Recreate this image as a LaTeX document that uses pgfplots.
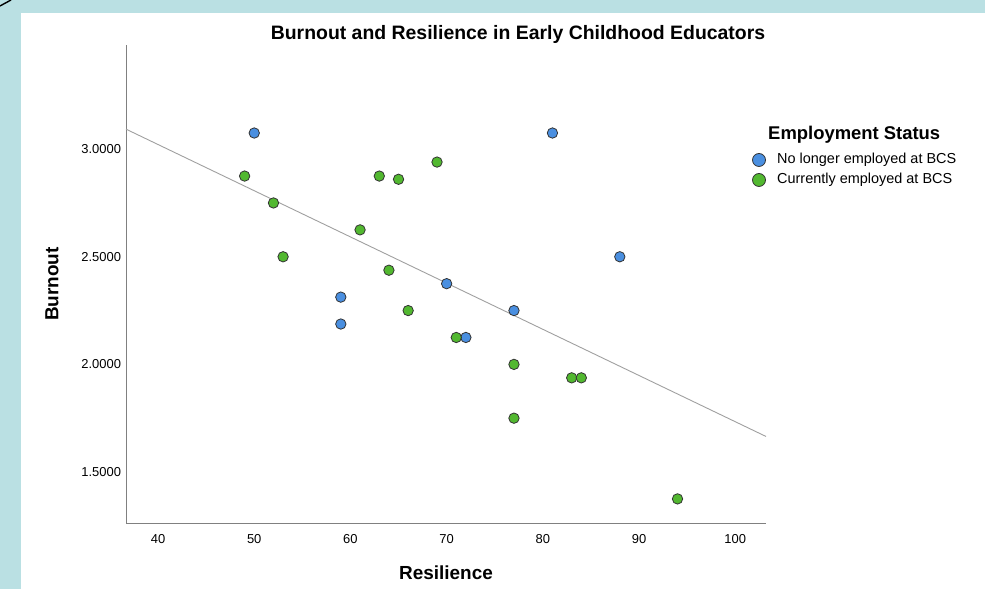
\documentclass[border=0pt]{standalone}
\usepackage{pgfplots}
\pgfplotsset{compat=1.18}
\usepackage{fontspec}
\setmainfont{Liberation Sans}
\definecolor{frame}{HTML}{BAE0E3}
\definecolor{ptblue}{HTML}{4A8FE0}
\definecolor{ptgreen}{HTML}{52B830}
\definecolor{axgray}{HTML}{808080}
\definecolor{fitgray}{HTML}{A0A0A0}
\begin{document}
\begin{tikzpicture}[x=1bp,y=1bp]
\useasboundingbox (0,0) rectangle (985,589);
\fill[frame] (0,0) rectangle (985,589);
\fill[white] (21,0) rectangle (985,576);
\draw[black,line width=1.4bp] (0,583) -- (11,589);
\begin{axis}[
  at={(126bp,66bp)}, anchor=origin,
  scale only axis, width=640bp, height=478bp,
  xmin=36.67, xmax=103.2, ymin=1.263, ymax=3.484,
  axis x line*=bottom, axis y line*=left,
  axis line style={axgray, line width=0.8bp, -},
  xtick={40,50,...,100},
  ytick={1.5,2,2.5,3},
  yticklabel={\pgfmathprintnumber[fixed,fixed zerofill,precision=4]{\tick}},
  xticklabel style={font=\fontsize{13}{15}\selectfont, anchor=base, yshift=-21bp},
  yticklabel style={font=\fontsize{13}{15}\selectfont, anchor=east, xshift=-1.5bp},
  major tick length=0pt,
  /pgf/number format/assume math mode=true,
  xlabel={\textbf{Resilience}}, ylabel={\textbf{Burnout}},
  xlabel style={font=\fontsize{19}{22}\selectfont, at={(axis description cs:0.5,-0.1046)}, anchor=center},
  ylabel style={font=\fontsize{19}{22}\selectfont, at={(axis description cs:-0.1156,0.5)}, anchor=center},
  clip=false,
]
\addplot[fitgray, line width=0.9bp] coordinates {(36.67,3.093) (103.2,1.665)};
\addplot[only marks, mark=*, mark size=5.2bp, mark options={fill=ptblue, draw=black!80, line width=0.8bp}] coordinates {
(50,3.075) (81,3.075) (88,2.5) (70,2.375) (59,2.3125) (59,2.1875) (77,2.25) (72,2.125)
};
\addplot[only marks, mark=*, mark size=5.2bp, mark options={fill=ptgreen, draw=black!80, line width=0.8bp}] coordinates {
(49,2.875) (52,2.75) (53,2.5) (63,2.875) (65,2.86) (69,2.94) (61,2.625) (64,2.4375) (66,2.25) (71,2.125) (77,2.0) (77,1.75) (83,1.9375) (84,1.9375) (94,1.375)
};
\end{axis}
\node[font=\fontsize{19.5}{22}\selectfont\bfseries] at (518,555) {Burnout and Resilience in Early Childhood Educators};
\node[font=\fontsize{18.5}{21}\selectfont\bfseries, anchor=west, inner sep=0pt] at (768,454) {Employment Status};
\draw[black!80, fill=ptblue, line width=0.8bp] (759,429) circle (6.5);
\draw[black!80, fill=ptgreen, line width=0.8bp] (759,409) circle (6.5);
\node[font=\fontsize{14.5}{17}\selectfont, anchor=west, inner sep=0pt] at (777,429) {No longer employed at BCS};
\node[font=\fontsize{14.5}{17}\selectfont, anchor=west, inner sep=0pt] at (777,409) {Currently employed at BCS};
\end{tikzpicture}
\end{document}
